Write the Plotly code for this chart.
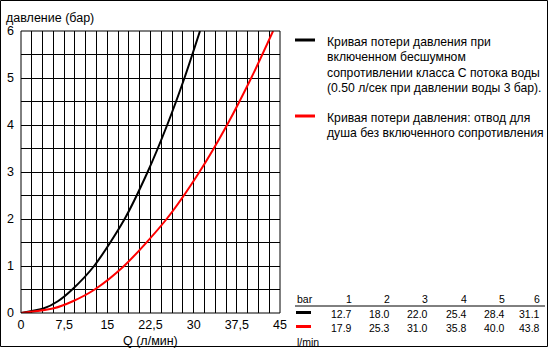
import plotly.graph_objects as go

# ---- data ----
pressure_bar = [1, 2, 3, 4, 5, 6]
flow_black = [12.7, 18.0, 22.0, 25.4, 28.4, 31.1]   # l/min, silent resistance class C
flow_red = [17.9, 25.3, 31.0, 35.8, 40.0, 43.8]     # l/min, shower outlet without resistance
# low-pressure points
low_pressure = [0, 0.1, 0.25, 0.5]
low_flow_black = [0, 4.0, 6.4, 8.9]
low_flow_red = [0, 5.7, 9.0, 12.8]
x_tick_vals = [0, 7.5, 15, 22.5, 30, 37.5, 45]
x_tick_text = ["0", "7,5", "15", "22,5", "30", "37,5", "45"]
y_tick_vals = [0, 1, 2, 3, 4, 5, 6]
legend_black = ["Кривая потери давления при", "включенном бесшумном",
                "сопротивлении класса С потока воды", "(0.50 л/сек при давлении воды 3 бар)."]
legend_red = ["Кривая потери давления: отвод для", "душа без включенного сопротивления"]

W, H = 550, 350
L, R, T, B = 21, 280, 31, 313  # plot area pixels

def px(x):
    return (x - L) / (R - L)

def py(y):
    return (B - y) / (B - T)

FONT = "Liberation Sans, Arial, sans-serif"
fig = go.Figure()
fig.add_trace(go.Scatter(x=low_flow_black + flow_black, y=low_pressure + pressure_bar, mode="lines",
                         line=dict(color="#000000", width=2, shape="spline", smoothing=0.8),
                         showlegend=False, hoverinfo="skip"))
fig.add_trace(go.Scatter(x=low_flow_red + flow_red, y=low_pressure + pressure_bar, mode="lines",
                         line=dict(color="#ff0000", width=2, shape="spline", smoothing=0.8),
                         showlegend=False, hoverinfo="skip"))

shapes = []
annotations = []
# outer border
shapes.append(dict(type="rect", xref="paper", yref="paper",
                   x0=px(0.5), x1=px(547.5), y0=py(0.5), y1=py(346.5),
                   line=dict(color="black", width=1)))
# plot frame
shapes.append(dict(type="rect", xref="paper", yref="paper", x0=0, x1=1, y0=0, y1=1,
                   line=dict(color="black", width=1)))

# y title
annotations.append(dict(text="давление (бар)", xref="paper", yref="paper",
                        x=px(4), y=py(18), xanchor="left", yanchor="middle",
                        showarrow=False, font=dict(size=12.5, color="#000", family=FONT)))
# x title
annotations.append(dict(text="Q (л/мин)", xref="paper", yref="paper",
                        x=px(150), y=py(341), xanchor="center", yanchor="middle",
                        showarrow=False, font=dict(size=12.5, color="#000", family=FONT)))

# legend
legend_font = dict(size=12.2, color="#000", family=FONT)
shapes.append(dict(type="line", xref="paper", yref="paper", x0=px(295), x1=px(315),
                   y0=py(40), y1=py(40), line=dict(color="black", width=3)))
for i, t in enumerate(legend_black):
    annotations.append(dict(text=t, xref="paper", yref="paper", x=px(325), y=py(42 + 15.4 * i),
                            xanchor="left", yanchor="middle", showarrow=False, font=legend_font))
shapes.append(dict(type="line", xref="paper", yref="paper", x0=px(295), x1=px(315),
                   y0=py(116), y1=py(116), line=dict(color="red", width=3)))
for i, t in enumerate(legend_red):
    annotations.append(dict(text=t, xref="paper", yref="paper", x=px(325), y=py(118 + 15.4 * i),
                            xanchor="left", yanchor="middle", showarrow=False, font=legend_font))

# table
tfont = dict(size=10.5, color="#000", family=FONT)
col_right = [353, 391, 429, 468, 506, 541]
annotations.append(dict(text="bar", xref="paper", yref="paper", x=px(295), y=py(299),
                        xanchor="left", yanchor="middle", showarrow=False, font=tfont))
annotations.append(dict(text="l/min", xref="paper", yref="paper", x=px(295), y=py(342),
                        xanchor="left", yanchor="middle", showarrow=False, font=tfont))
shapes.append(dict(type="line", xref="paper", yref="paper", x0=px(295), x1=px(545),
                   y0=py(306), y1=py(306), line=dict(color="black", width=1)))
shapes.append(dict(type="line", xref="paper", yref="paper", x0=px(296), x1=px(311),
                   y0=py(312.5), y1=py(312.5), line=dict(color="black", width=3)))
shapes.append(dict(type="line", xref="paper", yref="paper", x0=px(296), x1=px(311),
                   y0=py(326.5), y1=py(326.5), line=dict(color="red", width=3)))
for i in range(6):
    annotations.append(dict(text=str(pressure_bar[i]), xref="paper", yref="paper", x=px(col_right[i] + 1),
                            y=py(299), xanchor="right", yanchor="middle", showarrow=False, font=tfont))
    annotations.append(dict(text=f"{flow_black[i]:.1f}", xref="paper", yref="paper", x=px(col_right[i] + 1),
                            y=py(314), xanchor="right", yanchor="middle", showarrow=False, font=tfont))
    annotations.append(dict(text=f"{flow_red[i]:.1f}", xref="paper", yref="paper", x=px(col_right[i] + 1),
                            y=py(328), xanchor="right", yanchor="middle", showarrow=False, font=tfont))

fig.update_layout(
    width=W, height=H,
    margin=dict(l=L, r=W - R, t=T, b=H - B, pad=0, autoexpand=False),
    paper_bgcolor="#ffffff", plot_bgcolor="#ffffff",
    font=dict(family=FONT, size=12, color="#000"),
    shapes=shapes, annotations=annotations,
    showlegend=False,
)
fig.update_xaxes(range=[0, 45], tickvals=x_tick_vals, ticktext=x_tick_text,
                 showgrid=True, gridcolor="black", gridwidth=1, zeroline=False,
                 showline=False, ticks="", tickfont=dict(size=12.5, color="#000"),
                 ticklabelstandoff=2, automargin=False,
                 minor=dict(tick0=0, dtick=1.875, showgrid=True, gridcolor="black", gridwidth=1),
                 fixedrange=True)
fig.update_yaxes(range=[0, 6], tickvals=y_tick_vals,
                 showgrid=True, gridcolor="black", gridwidth=1, zeroline=False,
                 showline=False, ticks="", tickfont=dict(size=12.5, color="#000"),
                 ticklabelstandoff=6, automargin=False,
                 minor=dict(tick0=0, dtick=0.5, showgrid=True, gridcolor="black", gridwidth=1),
                 fixedrange=True)

fig.write_html("out.html", config={"displayModeBar": False})
